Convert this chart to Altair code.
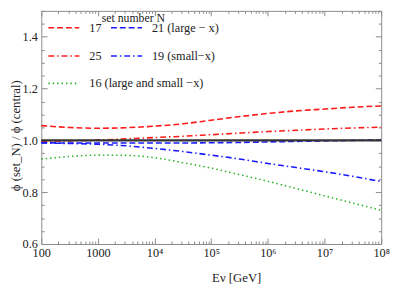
import altair as alt
import pandas as pd

# ---- data ----
log_e = [2.0, 2.5, 3.0, 3.5, 4.0, 4.5, 5.0, 5.5, 6.0, 6.5, 7.0, 7.5, 8.0]
set_17 = [1.057, 1.050, 1.047, 1.049, 1.055, 1.064, 1.078, 1.092, 1.104, 1.114, 1.121, 1.128, 1.133]
set_25 = [0.997, 0.998, 1.001, 1.006, 1.011, 1.016, 1.022, 1.028, 1.034, 1.039, 1.044, 1.048, 1.051]
set_21 = [0.991, 0.990, 0.990, 0.990, 0.990, 0.990, 0.991, 0.992, 0.994, 0.996, 0.998, 1.000, 1.002]
set_19 = [0.990, 0.988, 0.985, 0.979, 0.969, 0.957, 0.943, 0.928, 0.911, 0.895, 0.879, 0.861, 0.841]
set_16 = [0.928, 0.938, 0.943, 0.942, 0.933, 0.914, 0.893, 0.868, 0.842, 0.814, 0.786, 0.758, 0.730]

# legend A (two columns, column-major order) and legend B (single entry)
labels_a = ["17", "25", "21 (large \u2212 x)", "19 (small\u2212x)"]
series_a = [set_17, set_25, set_21, set_19]
colors_a = ["#ff1a1a", "#ff1a1a", "#1a1aff", "#1a1aff"]
dashes_a = [[6, 3], [6, 3, 1.5, 3], [6, 3], [6, 3, 1.5, 3]]

labels_b = ["16 (large and small \u2212x)"]
series_b = [set_16]
colors_b = ["#2db42d"]
dashes_b = [[1.5, 3]]

central_e = [100, 1e8]
central_r = [1.0, 1.0]

x_ticks = [m * 10 ** k for k in range(2, 8) for m in range(1, 10)] + [1e8]
y_ticks = [round(0.6 + 0.05 * i, 2) for i in range(19)]


def frame(labels, series):
    rows = []
    for lab, vals in zip(labels, series):
        for le, v in zip(log_e, vals):
            rows.append({"E": 10 ** le, "ratio": v, "set": lab})
    return pd.DataFrame(rows)


df_a = frame(labels_a, series_a)
df_b = frame(labels_b, series_b)
central = pd.DataFrame({"E": central_e, "ratio": central_r})

FONT = "Liberation Serif, Times New Roman, DejaVu Serif, serif"
x_major = "abs(log(datum.value)/LN10 - round(log(datum.value)/LN10)) < 0.001"
y_major = "abs(datum.value*5 - round(datum.value*5)) < 0.001"
sup = "['\u2070','\u00b9','\u00b2','\u00b3','\u2074','\u2075','\u2076','\u2077','\u2078','\u2079']"
x_label_expr = (f"!({x_major}) ? '' : (datum.value < 5000 ? format(datum.value, 'd') : "
                f"'10' + {sup}[round(log(datum.value)/LN10)])")

xscale = alt.Scale(type="log", domain=[100, 1e8], nice=False)
yscale = alt.Scale(domain=[0.6, 1.5], nice=False, zero=False)

axis_common = dict(grid=False, domainColor="#8a8a8a", tickColor="#8a8a8a",
                   labelFont=FONT, labelFontSize=12.5, labelColor="#222",
                   titleFont=FONT, titleFontSize=13, titleFontWeight="normal", titleColor="#222",
                   labelOverlap=False, labelFlush=False)

MAJ, MIN = -6, -3
x_axis = alt.Axis(orient="bottom", values=x_ticks, labelExpr=x_label_expr,
                  tickSize={"condition": {"test": x_major, "value": MAJ}, "value": MIN},
                  labelPadding=9, title="E\u03bd  [GeV]", titleX=199, titlePadding=10, **axis_common)
y_axis = alt.Axis(orient="left", values=y_ticks,
                  labelExpr=f"({y_major}) ? format(datum.value, '.1f') : ''",
                  tickSize={"condition": {"test": y_major, "value": MAJ}, "value": MIN},
                  labelPadding=10, title="\u03d5 (set_N) / \u03d5 (central)", titleY=127,
                  titlePadding=0, **axis_common)
x_axis_top = alt.Axis(orient="top", values=x_ticks, labels=False, title=None,
                      tickSize={"condition": {"test": x_major, "value": -5}, "value": -2.5},
                      **axis_common)
y_axis_right = alt.Axis(orient="right", values=y_ticks, labels=False, title=None,
                        tickSize={"condition": {"test": y_major, "value": MAJ}, "value": MIN},
                        **axis_common)

legend_common = dict(orient="none", legendX=6, symbolType="stroke", symbolSize=1000,
                     symbolStrokeWidth=1.6, labelFont=FONT, labelFontSize=12.5,
                     labelColor="#222", labelOffset=9)
legend_a = alt.Legend(title="set number N", legendY=2, columns=2,
                      titleFont=FONT, titleFontSize=12, titleFontWeight="normal",
                      titleColor="#222", titleAnchor="middle",
                      rowPadding=5, columnPadding=5, titlePadding=-14, **legend_common)
legend_b = alt.Legend(title=None, legendY=57, **legend_common)

curves_a = alt.Chart(df_a).mark_line(strokeWidth=1.6, interpolate="monotone").encode(
    x=alt.X("E:Q", scale=xscale, axis=x_axis),
    y=alt.Y("ratio:Q", scale=yscale, axis=y_axis),
    color=alt.Color("set:N", scale=alt.Scale(domain=labels_a, range=colors_a), legend=legend_a,
                    title="set number N"),
    strokeDash=alt.StrokeDash("set:N", scale=alt.Scale(domain=labels_a, range=dashes_a),
                              legend=legend_a, title="set number N"),
)

curves_b = alt.Chart(df_b).mark_line(strokeWidth=1.6, interpolate="monotone").encode(
    x=alt.X("E:Q", scale=xscale, axis=None),
    y=alt.Y("ratio:Q", scale=yscale, axis=None),
    color=alt.Color("set:N", scale=alt.Scale(domain=labels_b, range=colors_b), legend=legend_b,
                    title=None),
    strokeDash=alt.StrokeDash("set:N", scale=alt.Scale(domain=labels_b, range=dashes_b),
                              legend=legend_b, title=None),
)

center_line = alt.Chart(central).mark_line(color="#333", strokeWidth=2.2).encode(
    x=alt.X("E:Q", scale=xscale, axis=x_axis_top),
    y=alt.Y("ratio:Q", scale=yscale, axis=y_axis_right),
)

chart = alt.layer(curves_a, curves_b, center_line).resolve_axis(
    x="independent", y="independent"
).resolve_scale(
    color="independent", strokeDash="independent"
).resolve_legend(
    color="independent", strokeDash="independent"
).properties(
    width=347, height=238,
    autosize=alt.AutoSizeParams(type="none"),
    padding={"left": 34, "top": 0, "right": 9, "bottom": 43},
).configure_view(stroke=None)

chart.save("out.html", embed_options={"renderer": "svg", "actions": False})
